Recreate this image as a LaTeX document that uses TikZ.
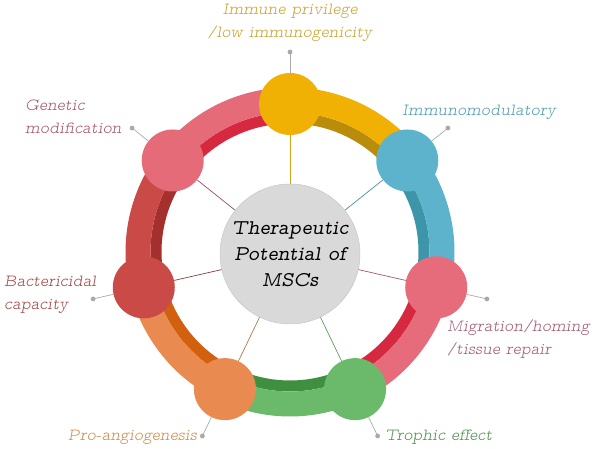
\documentclass[tikz,border=0pt]{standalone}
\usepackage{fontspec}
\usepackage{tikz}
\usetikzlibrary{calc}
\newfontfamily\lblfont{lmmonoproplt10-oblique}[Extension=.otf]
\newfontfamily\corefont{lmmonoprop10-oblique}[Extension=.otf]
\definecolor{privyellow}{HTML}{F1B004}
\definecolor{privdark}{HTML}{B98C0B}
\definecolor{privspoke}{HTML}{D6A21C}
\definecolor{privtext}{HTML}{C9A330}
\definecolor{immblue}{HTML}{5DB3CB}
\definecolor{immdark}{HTML}{3D95A9}
\definecolor{immspoke}{HTML}{3D8FA5}
\definecolor{immtext}{HTML}{4E9CAE}
\definecolor{migpink}{HTML}{E76C7B}
\definecolor{migdark}{HTML}{D6283F}
\definecolor{migspoke}{HTML}{9E5A66}
\definecolor{migtext}{HTML}{A35A70}
\definecolor{tropgreen}{HTML}{6BB96B}
\definecolor{tropdark}{HTML}{3F8F40}
\definecolor{tropspoke}{HTML}{5E9E5E}
\definecolor{troptext}{HTML}{4F9050}
\definecolor{angorange}{HTML}{E98A50}
\definecolor{angdark}{HTML}{D2600F}
\definecolor{angspoke}{HTML}{B0784A}
\definecolor{angtext}{HTML}{D48A4A}
\definecolor{bacred}{HTML}{C94A47}
\definecolor{bacdark}{HTML}{A3302D}
\definecolor{bacspoke}{HTML}{8A3C3C}
\definecolor{bactext}{HTML}{A44545}
\definecolor{genpink}{HTML}{E56B79}
\definecolor{gendark}{HTML}{D6283F}
\definecolor{genspoke}{HTML}{8E5060}
\definecolor{gentext}{HTML}{A5566A}
\definecolor{hubgray}{HTML}{D9D9D9}
\definecolor{hubedge}{HTML}{C8C8C8}
\definecolor{dotgray}{HTML}{A9A9A9}
\tikzset{
  hub/.style={circle,fill=hubgray,draw=hubedge,line width=0.5pt,minimum size=140pt,
    inner sep=0pt,align=center,font=\corefont\fontsize{21}{26}\selectfont},
  mscnode/.style={circle,minimum size=62pt,inner sep=0pt},
  band/.style={line width=25pt},
  strip/.style={line width=11pt},
  spoke/.style={line width=0.7pt},
  leader/.style={draw=dotgray,line width=0.7pt},
  lbl/.style={inner sep=0pt,align=left,font=\lblfont\fontsize{17}{23}\selectfont}
}

\begin{document}
\begin{tikzpicture}[x=1pt,y=1pt]
  \useasboundingbox (0,0) rectangle (600,449);
  % hub
  \coordinate (ring) at (290,197);
  \node[hub] (core) at (290,195) {Therapeutic\\Potential of\\MSCs};
  % ribbon, one arc per property, running clockwise
  \foreach \k/\fc/\dc in {0/privyellow/privdark, 1/immblue/immdark, 2/migpink/migdark,
      3/tropgreen/tropdark, 4/angorange/angdark, 5/bacred/bacdark, 6/genpink/gendark}{
    \pgfmathsetmacro{\a}{90-\k*360/7}
    \pgfmathsetmacro{\b}{\a-360/7}
    \draw[strip,draw=\dc] ([shift={(\a:134pt)}]ring) arc[start angle=\a,end angle=\b,radius=134pt];
    \draw[band,draw=\fc] ([shift={(\a:152pt)}]ring) arc[start angle=\a,end angle=\b,radius=152pt];
  }
  % property circles, spokes and leaders
  \foreach \k/\nm/\fc/\sc in {0/privilege/privyellow/privspoke, 1/immuno/immblue/immspoke,
      2/migration/migpink/migspoke, 3/trophic/tropgreen/tropspoke,
      4/angio/angorange/angspoke, 5/bacteri/bacred/bacspoke, 6/genetic/genpink/genspoke}{
    \pgfmathsetmacro{\a}{90-\k*360/7}
    \node[mscnode,fill=\fc] (\nm) at ([shift={(\a:150pt)}]core) {};
    \coordinate (\nm-tip) at ([shift={(\a:202pt)}]core);
    \draw[spoke,draw=\sc] (core) -- (\nm);
    \draw[leader] (\nm) -- (\nm-tip);
    \fill[dotgray] (\nm-tip) circle (2.4pt);
  }
  % labels
  \node[lbl,text=privtext,align=center] (privilege-label) at (290,426)
    {Immune privilege\\/low immunogenicity};
  \node[lbl,text=immtext,anchor=west] (immuno-label) at (402,337) {Immunomodulatory};
  \node[lbl,text=migtext,anchor=west] (migration-label) at (447,109.5)
    {Migration/homing\\/tissue repair};
  \node[lbl,text=troptext,anchor=west] (trophic-label) at (385,12) {Trophic effect};
  \node[lbl,text=angtext,anchor=east] (angio-label) at (197,12) {Pro-angiogenesis};
  \node[lbl,text=bactext,anchor=west] (bacteri-label) at (4,154.5)
    {Bactericidal\\capacity};
  \node[lbl,text=gentext,anchor=west] (genetic-label) at (25,332.5)
    {Genetic\\modification};
\end{tikzpicture}
\end{document}
